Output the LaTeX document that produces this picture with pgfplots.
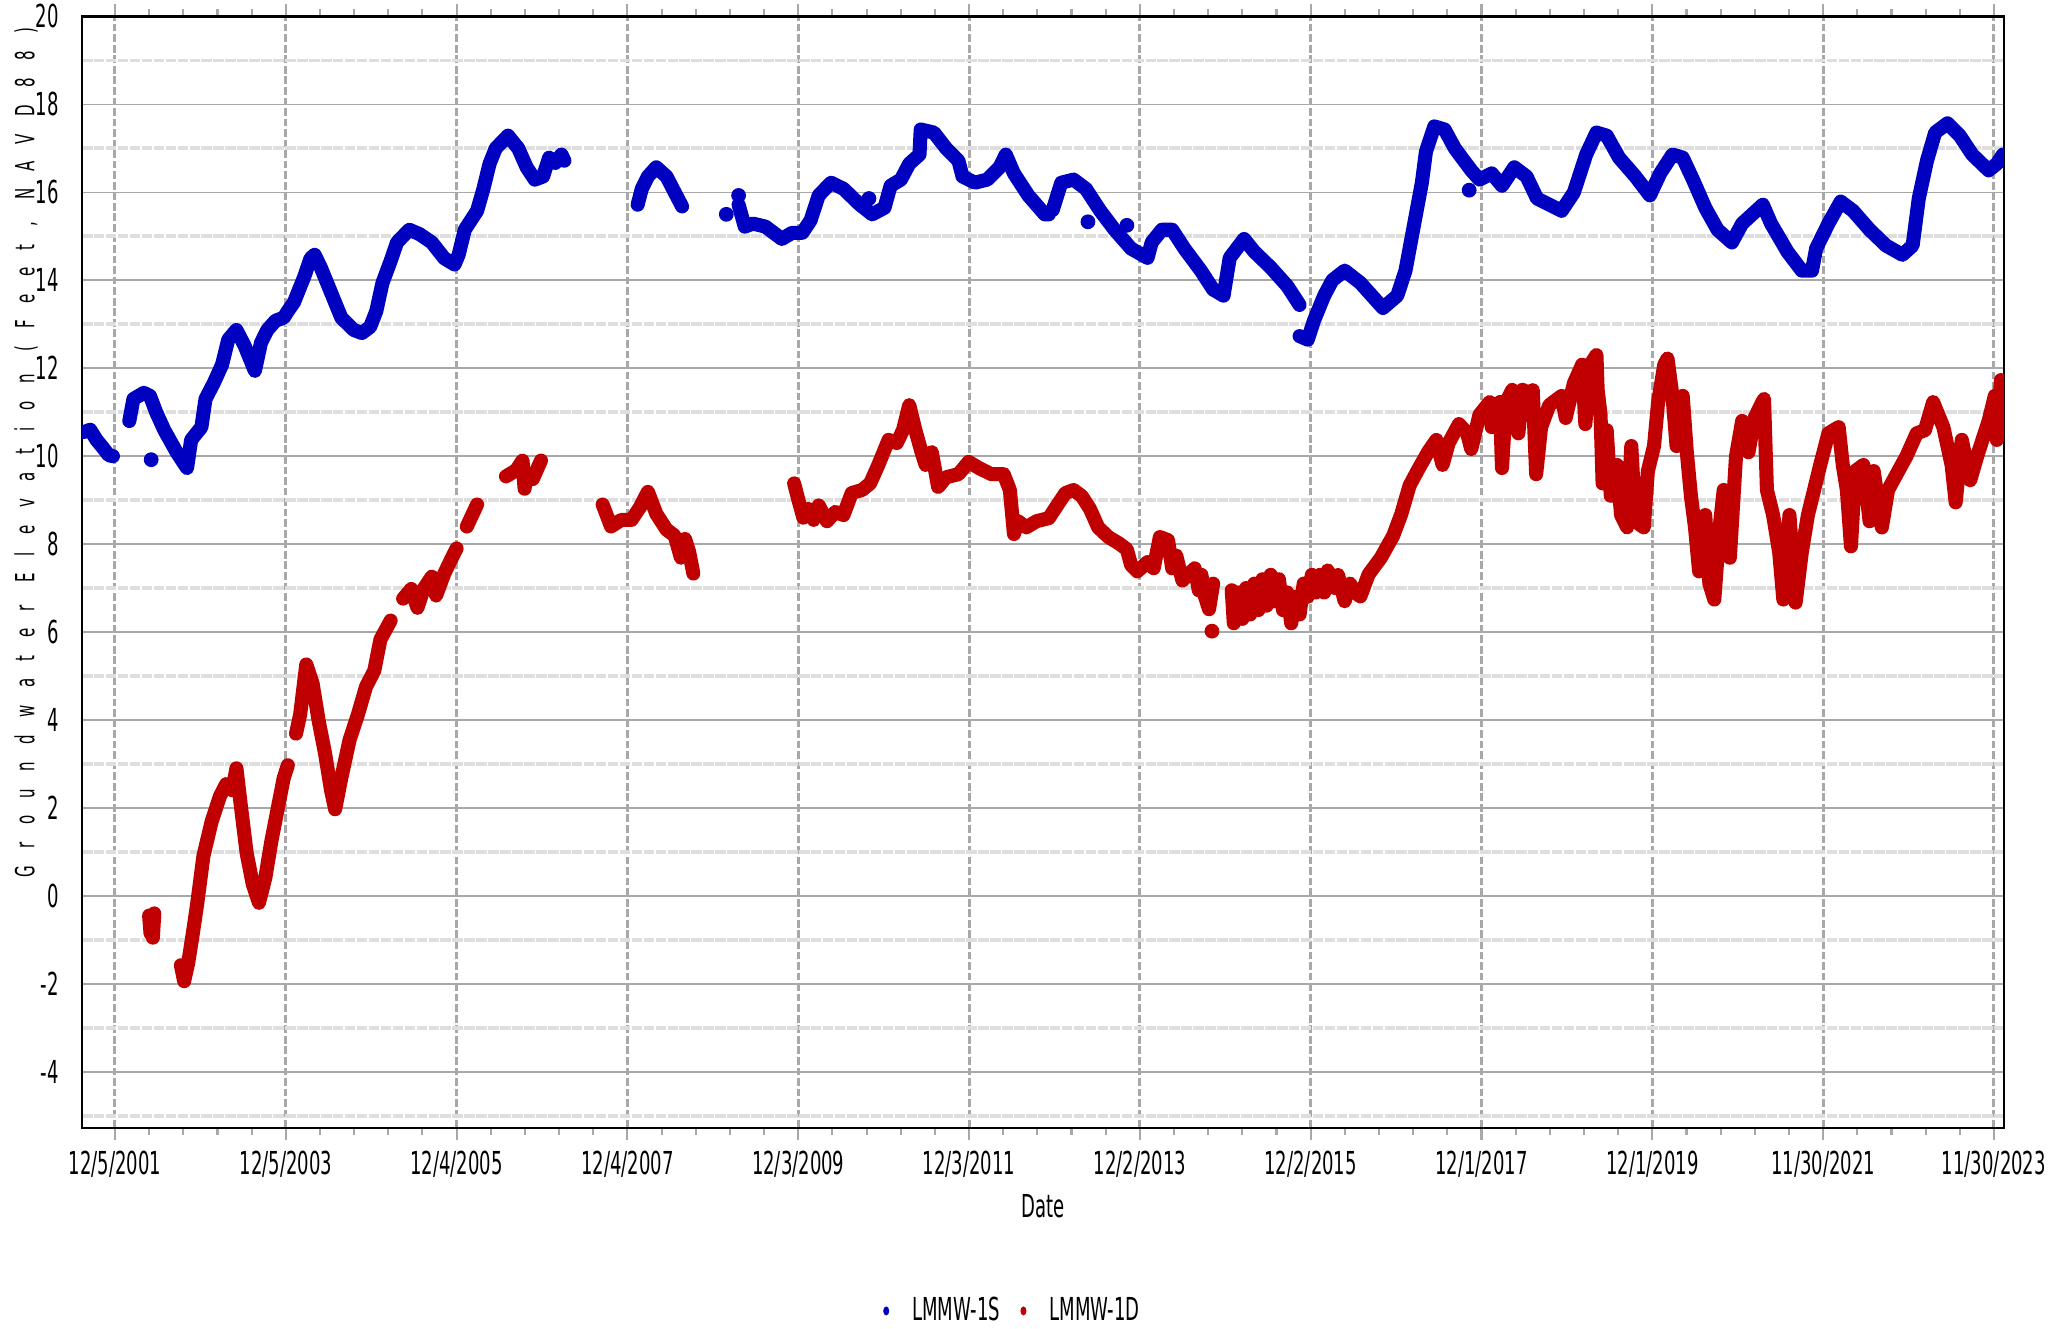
\documentclass[border=0pt]{standalone}
\usepackage{pgfplots}
\pgfplotsset{compat=1.18}
\usepackage{fontspec}
\setmainfont{DejaVu Sans}[FakeStretch=0.57]
\newfontfamily\spacedfont{DejaVu Sans}[FakeStretch=0.57,LetterSpace=66]
\definecolor{wblue}{RGB}{0,0,192}
\definecolor{wred}{RGB}{192,0,0}
\definecolor{gmaj}{RGB}{168,168,168}
\definecolor{gmin}{RGB}{222,222,222}

\begin{document}
\fontsize{9}{11}\selectfont
\begin{tikzpicture}
\begin{axis}[
    name=ax,
    scale only axis,
    width=19.22cm, height=11.115cm,
    xmin=-0.193, xmax=11.059,
    ymin=-5.28, ymax=20,
    unbounded coords=jump,
    xtick={0,...,11},
    xticklabels={12/5/2001,12/5/2003,12/4/2005,12/4/2007,12/3/2009,12/3/2011,12/2/2013,12/2/2015,12/1/2017,12/1/2019,11/30/2021,11/30/2023},
    minor x tick num=4,
    ytick={-4,-2,...,20},
    minor ytick={-5,-3,...,19},
    xmajorgrids, ymajorgrids, yminorgrids,
    major x grid style={gmaj, line width=0.85pt, dash pattern=on 2.2pt off 0.8pt},
    major y grid style={gmaj, line width=0.45pt},
    minor y grid style={gmin, line width=1.1pt, dash pattern=on 3pt off 0.4pt},
    tick align=outside,
    major tick length=0.12cm,
    minor tick length=0.07cm,
    xtick style={gmaj, line width=0.6pt},
    ytick style={draw=none},
    axis line style={black, line width=0.6pt},
    /pgf/number format/assume math mode=true,
    xlabel={Date},
    ylabel={{\fontsize{7.5}{9}\spacedfont Groundwater Elevation (Feet, NAVD88)}},
    every axis x label/.style={at={(axis description cs:0.5,-0.0702)}, anchor=center},
    every axis y label/.style={at={(axis description cs:-0.0291,0.6076)}, rotate=90, anchor=center},
    legend columns=2,
    legend style={at={(axis description cs:0.4854,-0.1646)}, anchor=center, draw=none, fill=none,
        /tikz/every even column/.append style={column sep=0.135cm}},
    legend image code/.code={\fill[#1,draw=none] (0.1cm,0cm) ellipse (0.03cm and 0.045cm); \path (0.22cm,0cm);},
]

% LMMW-1S
\addplot[wblue, line width=4pt, line join=round, line cap=round] coordinates {
(-0.181,10.55) (-0.145,10.6) (-0.108,10.37) (-0.072,10.2) (-0.036,10.02) (-0.012,10.0)
(0.03,nan)
(0.084,10.8) (0.108,11.3) (0.169,11.44) (0.205,11.37) (0.241,11.0) (0.289,10.59) (0.361,10.09)
(0.422,9.73) (0.446,10.37) (0.506,10.66) (0.530,11.3) (0.578,11.66) (0.627,12.08) (0.663,12.65)
(0.711,12.87) (0.759,12.51) (0.819,11.94) (0.855,12.58) (0.892,12.87) (0.940,13.08) (0.988,13.15)
(1.012,13.3) (1.048,13.5) (1.108,14.08) (1.145,14.5) (1.169,14.58) (1.205,14.29) (1.265,13.72)
(1.325,13.15) (1.398,12.87) (1.446,12.8) (1.494,12.94) (1.530,13.3) (1.566,13.94) (1.614,14.44)
(1.651,14.86) (1.723,15.15) (1.783,15.05) (1.855,14.86) (1.928,14.5) (1.988,14.36) (2.012,14.58)
(2.048,15.15) (2.120,15.58) (2.157,16.08) (2.193,16.65) (2.229,17.0) (2.301,17.29) (2.361,17.0)
(2.410,16.57) (2.458,16.29) (2.506,16.36) (2.542,16.79) (2.578,16.67) (2.614,16.86) (2.631,16.72)
(2.7,nan)
(3.060,15.72) (3.084,16.08) (3.120,16.36) (3.169,16.57) (3.229,16.36) (3.277,16.0) (3.320,15.68)
(3.4,nan)
(3.651,15.72) (3.687,15.22) (3.735,15.29) (3.808,15.22) (3.904,14.94) (3.964,15.08) (4.024,15.08)
(4.072,15.36) (4.120,15.93) (4.192,16.22) (4.265,16.08) (4.361,15.72) (4.433,15.5) (4.505,15.65)
(4.541,16.15) (4.601,16.29) (4.650,16.65) (4.710,16.86) (4.717,17.43) (4.794,17.36) (4.866,17.0)
(4.938,16.72) (4.962,16.36) (5.034,16.22) (5.107,16.29) (5.179,16.57) (5.215,16.86) (5.263,16.43)
(5.347,15.93) (5.443,15.5) (5.467,15.5)
(5.48,nan)
(5.49,15.6) (5.540,16.22) (5.612,16.29) (5.684,16.08) (5.768,15.58) (5.852,15.15) (5.949,14.72)
(6.045,14.51) (6.069,14.86) (6.129,15.15) (6.189,15.15) (6.261,14.72) (6.357,14.22) (6.429,13.79)
(6.490,13.65) (6.526,14.51) (6.610,14.94) (6.670,14.65) (6.766,14.29) (6.863,13.87) (6.935,13.44)
(6.94,nan)
(6.935,12.73) (6.983,12.65) (7.019,13.08) (7.079,13.65) (7.127,14.0) (7.199,14.22) (7.291,13.94)
(7.423,13.37) (7.507,13.65) (7.555,14.22) (7.603,15.22) (7.651,16.22) (7.675,16.93) (7.724,17.5)
(7.784,17.43) (7.844,17.0) (7.940,16.5) (7.988,16.29) (8.060,16.43) (8.120,16.15) (8.192,16.57)
(8.264,16.36) (8.325,15.86) (8.397,15.72) (8.469,15.58) (8.541,16.0) (8.613,16.86) (8.673,17.36)
(8.733,17.29) (8.805,16.79) (8.901,16.36) (8.986,15.93) (9.046,16.43) (9.118,16.86) (9.178,16.79)
(9.238,16.29) (9.310,15.65) (9.382,15.15) (9.466,14.86) (9.526,15.29) (9.647,15.72) (9.695,15.29)
(9.791,14.65) (9.875,14.22) (9.935,14.22) (9.959,14.72) (10.031,15.29) (10.103,15.79) (10.175,15.58)
(10.272,15.15) (10.368,14.79) (10.464,14.58) (10.524,14.79) (10.560,15.86) (10.608,16.72) (10.656,17.36)
(10.728,17.57) (10.800,17.29) (10.873,16.86) (10.969,16.5) (11.017,16.65) (11.053,16.86)
};
\addlegendentry{LMMW-1S}

% LMMW-1D
\addplot[wred, line width=4pt, line join=round, line cap=round] coordinates {
(0.200,-0.45) (0.208,-0.85) (0.215,-0.55) (0.222,-0.95) (0.230,-0.4)
(0.3,nan)
(0.386,-1.58) (0.405,-1.94) (0.429,-1.52) (0.458,-0.8) (0.482,-0.16) (0.518,0.91) (0.566,1.69)
(0.614,2.26) (0.651,2.54) (0.687,2.4) (0.711,2.9) (0.735,2.11) (0.771,0.97) (0.807,0.26)
(0.843,-0.16) (0.880,0.41) (0.916,1.25) (0.952,1.97) (0.988,2.68) (1.012,2.97)
(1.03,nan)
(1.060,3.69) (1.084,4.12) (1.120,5.26) (1.157,4.83) (1.193,3.97) (1.229,3.26) (1.265,2.4)
(1.289,1.97) (1.325,2.68) (1.373,3.54) (1.422,4.12) (1.470,4.76) (1.518,5.12) (1.554,5.83) (1.614,6.26)
(1.65,nan)
(1.687,6.76) (1.735,6.98) (1.771,6.55) (1.807,6.98) (1.855,7.26) (1.880,6.83) (1.928,7.33)
(1.964,7.62) (2.0,7.9)
(2.03,nan)
(2.060,8.4) (2.120,8.9)
(2.2,nan)
(2.289,9.54) (2.349,9.68) (2.386,9.9) (2.398,9.26) (2.410,9.6)
(2.42,nan)
(2.446,9.48) (2.494,9.9)
(2.6,nan)
(2.855,8.9) (2.904,8.4) (2.964,8.55) (3.024,8.55) (3.072,8.83) (3.120,9.19) (3.169,8.69)
(3.229,8.33) (3.277,8.19) (3.313,7.69) (3.337,8.12) (3.361,7.83) (3.386,7.33)
(3.5,nan)
(3.976,9.38) (4.0,9.02) (4.030,8.6) (4.060,8.8) (4.090,8.55) (4.120,8.88) (4.168,8.52) (4.217,8.73)
(4.265,8.66) (4.313,9.16) (4.373,9.23) (4.421,9.38) (4.469,9.8) (4.529,10.37) (4.577,10.3)
(4.613,10.59) (4.650,11.16) (4.686,10.59) (4.722,10.09) (4.746,9.8) (4.782,10.09) (4.819,9.3)
(4.866,9.52) (4.938,9.59) (4.998,9.87) (5.058,9.73) (5.131,9.59) (5.203,9.59) (5.239,9.23)
(5.263,8.23) (5.287,8.52) (5.335,8.38) (5.395,8.52) (5.467,8.59) (5.516,8.88) (5.564,9.16)
(5.612,9.23) (5.660,9.09) (5.708,8.8) (5.756,8.38) (5.816,8.16) (5.876,8.02) (5.924,7.88)
(5.949,7.52) (5.985,7.38) (6.045,7.59) (6.081,7.45) (6.117,8.16) (6.165,8.09) (6.189,7.45)
(6.213,7.74) (6.249,7.17) (6.285,7.31) (6.321,7.45) (6.345,6.95) (6.360,7.3) (6.381,6.81)
(6.405,6.52) (6.429,7.1)
(6.48,nan)
(6.538,6.95) (6.550,6.2) (6.574,6.9) (6.600,6.3) (6.622,7.0) (6.646,6.4) (6.670,7.1) (6.694,6.5)
(6.718,7.2) (6.742,6.6) (6.766,7.3) (6.790,6.7) (6.814,7.2) (6.838,6.5) (6.862,6.9) (6.886,6.2)
(6.911,6.8) (6.935,6.4) (6.959,7.1) (6.983,6.8) (7.007,7.3) (7.030,6.9) (7.055,7.3) (7.079,6.9)
(7.100,7.4) (7.139,7.0) (7.160,7.3) (7.199,6.7) (7.230,7.1) (7.260,6.9) (7.291,6.81) (7.339,7.31)
(7.411,7.69) (7.483,8.19) (7.531,8.69) (7.579,9.33) (7.627,9.68) (7.688,10.1) (7.736,10.37)
(7.772,9.8) (7.808,10.3) (7.868,10.73) (7.916,10.52) (7.940,10.16) (7.988,10.94) (8.048,11.23)
(8.060,10.66) (8.108,11.23) (8.120,9.73) (8.144,11.23) (8.180,11.51) (8.216,10.52) (8.240,11.51)
(8.276,11.44) (8.300,11.5) (8.320,9.59) (8.349,10.66) (8.397,11.16) (8.469,11.37) (8.493,10.87)
(8.541,11.66) (8.589,12.08) (8.608,10.73) (8.637,12.08) (8.673,12.3) (8.680,11.51) (8.697,10.94)
(8.709,9.38) (8.733,10.59) (8.757,9.1) (8.793,9.8) (8.817,8.66) (8.853,8.38) (8.877,10.23)
(8.901,8.52) (8.950,8.38) (8.974,9.66) (9.010,10.23) (9.034,11.23) (9.070,12.08) (9.089,12.22)
(9.118,11.37) (9.142,10.23) (9.178,11.37) (9.202,10.09) (9.226,9.1) (9.250,8.38) (9.274,7.38)
(9.310,8.66) (9.334,7.1) (9.363,6.74) (9.394,8.38) (9.418,9.23) (9.454,7.69) (9.490,10.0)
(9.526,10.8) (9.563,10.09) (9.599,10.87) (9.635,11.16) (9.654,11.3) (9.671,9.23) (9.707,8.66)
(9.743,7.81) (9.767,6.74) (9.803,8.66) (9.839,6.67) (9.875,7.81) (9.911,8.66) (9.947,9.23)
(9.983,9.8) (10.031,10.52) (10.091,10.66) (10.115,9.8) (10.139,9.23) (10.163,7.95) (10.188,9.66)
(10.236,9.8) (10.272,8.52) (10.296,9.66) (10.344,8.38) (10.380,9.23) (10.440,9.66) (10.488,10.0)
(10.548,10.52) (10.596,10.59) (10.644,11.23) (10.704,10.66) (10.752,9.8) (10.776,8.95) (10.812,10.37)
(10.861,9.45) (10.909,10.09) (10.969,10.8) (11.005,11.37) (11.017,10.37) (11.041,11.73) (11.053,11.23)
};
\addlegendentry{LMMW-1D}

% isolated readings
\addplot[forget plot, only marks, mark=*, mark size=1.9pt, wblue] coordinates {
(0.212,9.92) (3.579,15.5) (3.651,15.93) (4.414,15.86) (5.696,15.33) (5.924,15.25) (7.928,16.05)
};
\addplot[forget plot, only marks, mark=*, mark size=1.9pt, wred] coordinates {
(6.422,6.02)
};
\end{axis}
\pgfresetboundingbox
\path (ax.south west) ++(-0.82cm,-2.01cm) rectangle ([xshift=0.51cm,yshift=0.165cm]ax.north east);
\end{tikzpicture}
\end{document}
